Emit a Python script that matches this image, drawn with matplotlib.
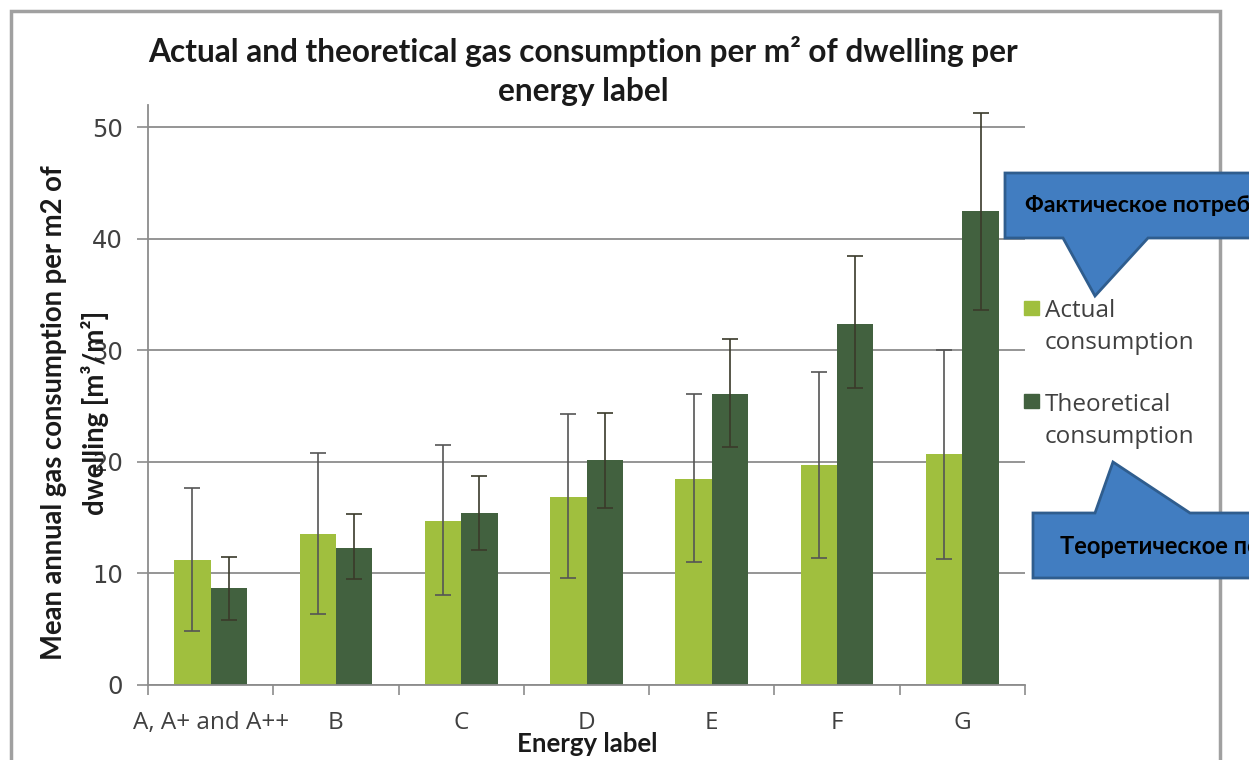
import matplotlib.pyplot as plt
from matplotlib.patches import Polygon, Rectangle
import numpy as np

labels = ["A, A+ and A++", "B", "C", "D", "E", "F", "G"]

actual = [11.2, 13.5, 14.7, 16.9, 18.5, 19.7, 20.7]
actual_low = [4.8, 6.4, 8.1, 9.6, 11.0, 11.4, 11.3]
actual_high = [17.7, 20.8, 21.5, 24.3, 26.1, 28.1, 30.0]

theoretical = [8.7, 12.3, 15.4, 20.2, 26.1, 32.4, 42.5]
theo_low = [5.8, 9.5, 12.1, 15.9, 21.3, 26.6, 33.6]
theo_high = [11.5, 15.3, 18.7, 24.4, 31.0, 38.5, 51.3]

calib = ['Lato', 'DejaVu Sans']
segoe = ['Open Sans', 'DejaVu Sans']
W, H = 1249, 760

fig = plt.figure(figsize=(W / 100, H / 100), dpi=100)
ax = fig.add_axes([148 / W, 1 - 685 / H, (1025 - 148) / W, (685 - 105) / H])

x = np.arange(len(labels))
bw = 0.29
act = np.array(actual)
th = np.array(theoretical)

ax.bar(x - bw / 2, act, bw, color='#A0BF3E', zorder=2)
ax.bar(x + bw / 2, th, bw, color='#42613F', zorder=2)
ax.errorbar(x - bw / 2, act, yerr=[act - np.array(actual_low), np.array(actual_high) - act],
            fmt='none', ecolor='#555555', elinewidth=1.2, capsize=6, capthick=1.2, zorder=3)
ax.errorbar(x + bw / 2, th, yerr=[th - np.array(theo_low), np.array(theo_high) - th],
            fmt='none', ecolor='#3a3a2a', elinewidth=1.2, capsize=6, capthick=1.2, zorder=3)

ax.set_xlim(-0.5, 6.5)
ax.set_ylim(0, 52)
ax.set_yticks([0, 10, 20, 30, 40, 50])
ax.yaxis.grid(True, color='#8c8c8c', linewidth=1.3, zorder=0)
ax.set_axisbelow(True)

ax.set_xticks(x)
ax.set_xticklabels(labels, family=segoe)
ax.set_xticks(np.arange(-0.5, 7, 1), minor=True)
ax.tick_params(axis='x', which='major', length=0, pad=19, labelsize=17.5, labelcolor='#404040')
ax.tick_params(axis='x', which='minor', length=7, width=1.2, color='#8c8c8c')
ax.tick_params(axis='y', length=8, width=1.2, color='#8c8c8c', labelsize=17.5, labelcolor='#404040', pad=10)
for t in ax.get_yticklabels():
    t.set_family('DejaVu Sans')

for s in ['top', 'right']:
    ax.spines[s].set_visible(False)
for s in ['left', 'bottom']:
    ax.spines[s].set_color('#8c8c8c')
    ax.spines[s].set_linewidth(1.3)

# titles and labels
fig.text(583 / W, 1 - 71 / H,
         "Actual and theoretical gas consumption per m\u00b2 of dwelling per\nenergy label",
         ha='center', va='center', fontsize=22.8, fontweight='bold', family=calib,
         linespacing=1.42, color='#1a1a1a')
fig.text(75 / W, 1 - 413 / H,
         "Mean annual gas consumption per m2 of\ndwelling [m\u00b3/m\u00b2]",
         ha='center', va='center', rotation=90, fontsize=19.8, fontweight='bold',
         family=calib, linespacing=1.6, color='#1a1a1a')
fig.text(587 / W, 1 - 744 / H, "Energy label", ha='center', va='center',
         fontsize=18.5, fontweight='bold', family=calib, color='#1a1a1a')

# legend drawn by hand
fig.add_artist(Rectangle((1024 / W, 1 - 315 / H), 15 / W, 14 / H,
                         transform=fig.transFigure, color='#A0BF3E'))
fig.add_artist(Rectangle((1024 / W, 1 - 408 / H), 15 / W, 14 / H,
                         transform=fig.transFigure, color='#42613F'))
fig.text(1045 / W, 1 - 327 / H, "Actual\nconsumption", ha='left', va='center',
         fontsize=17.5, family=segoe, color='#404040', linespacing=1.45)
fig.text(1045 / W, 1 - 421 / H, "Theoretical\nconsumption", ha='left', va='center',
         fontsize=17.5, family=segoe, color='#404040', linespacing=1.45)

# outer border of the chart area
fig.add_artist(Rectangle((11 / W, -0.1), (1220 - 11) / W, 1.1 - 11 / H,
                         transform=fig.transFigure, fill=False, edgecolor='#a0a0a0', linewidth=2.5))

# callouts
def px(pts):
    return [(a / W, 1 - b / H) for a, b in pts]

call1 = [(1005, 173), (1270, 173), (1270, 238), (1148, 238), (1095, 296), (1063, 238), (1005, 238)]
call2 = [(1033, 513), (1095, 513), (1113, 462), (1190, 513), (1270, 513), (1270, 578), (1033, 578)]
for pts in (call1, call2):
    fig.add_artist(Polygon(px(pts), closed=True, transform=fig.transFigure,
                           facecolor='#417DC1', edgecolor='#2F5D8E', linewidth=2, zorder=5))

fig.text(1025 / W, 1 - 206 / H, "Фактическое потребление", ha='left', va='center',
         fontsize=16.7, fontweight='bold', family=calib, color='black', zorder=6)
fig.text(1060 / W, 1 - 547 / H, "Теоретическое потребление", ha='left', va='center',
         fontsize=17, fontweight='bold', family=calib, color='black', zorder=6)

fig.savefig("out.png", dpi=100)
